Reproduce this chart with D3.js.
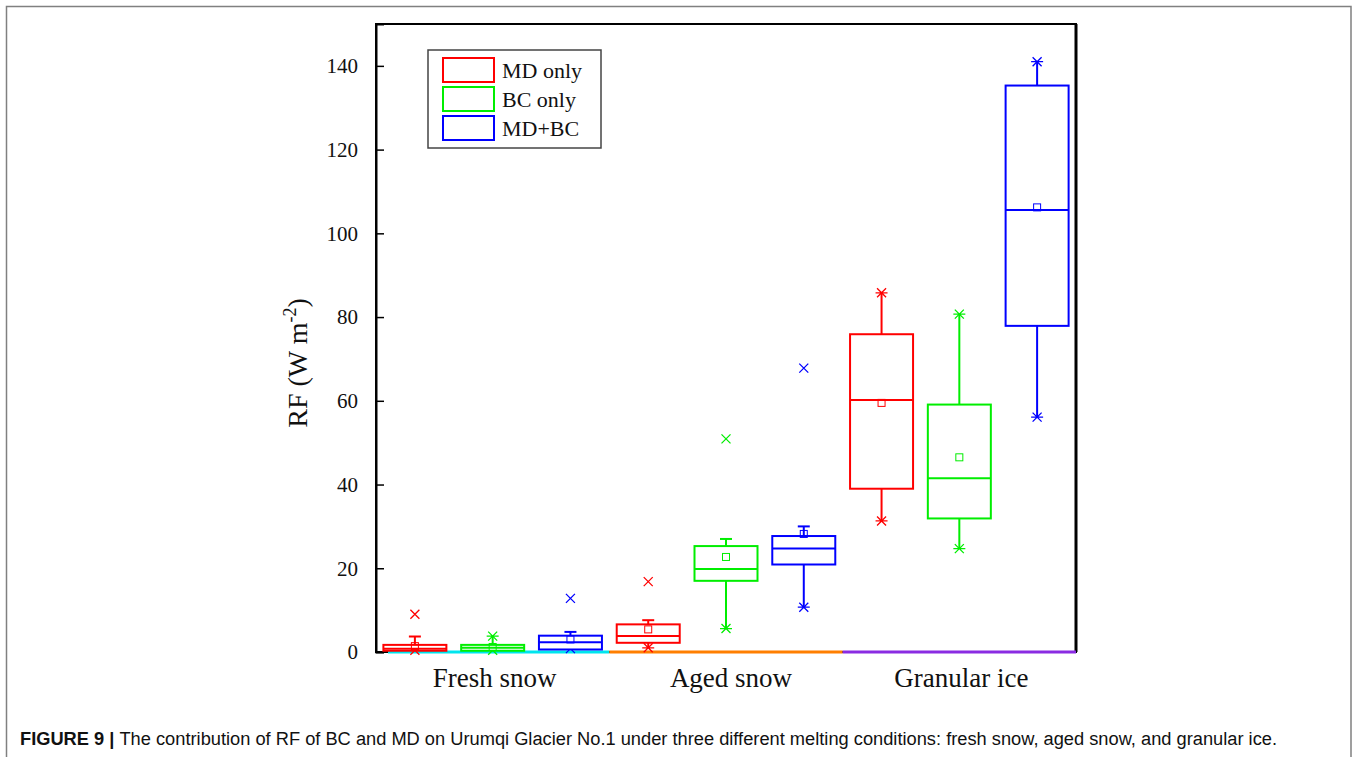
<!DOCTYPE html>
<html>
<head>
<meta charset="utf-8">
<script src="https://cdn.jsdelivr.net/npm/d3@7"></script>
<style>
  body { margin: 0; background: #fff; }
  svg { display: block; }
</style>
</head>
<body>
<div id="chart"></div>
<script>
// data
const categories = ["Fresh snow", "Aged snow", "Granular ice"];
const seriesNames = ["MD only", "BC only", "MD+BC"];
const seriesColors = ["#ff0000", "#00ee00", "#0000ff"];
const groupLineColors = ["#00e5ee", "#ff7f00", "#8a2be2"];
const yTicks = [0, 20, 40, 60, 80, 100, 120, 140];

// MD only
const mdLow = [0.4, 1.0, 31.3];
const mdQ1 = [0.3, 2.2, 39.0];
const mdMed = [0.8, 3.8, 60.2];
const mdQ3 = [1.7, 6.6, 75.9];
const mdHigh = [3.7, 7.6, 85.8];
const mdMean = [1.4, 5.4, 59.5];
const mdOut = [9.0, 16.8, null];

// BC only
const bcLow = [0.4, 5.6, 24.7];
const bcQ1 = [0.3, 17.0, 31.9];
const bcMed = [1.0, 19.8, 41.5];
const bcQ3 = [1.7, 25.3, 59.1];
const bcHigh = [3.8, 27.0, 80.7];
const bcMean = [1.2, 22.7, 46.5];
const bcOut = [null, 50.9, null];

// MD+BC
const mbLow = [0.8, 10.7, 56.1];
const mbQ1 = [0.6, 20.9, 77.9];
const mbMed = [2.3, 24.7, 105.6];
const mbQ3 = [3.9, 27.7, 135.3];
const mbHigh = [4.8, 30.0, 141.0];
const mbMean = [3.0, 28.2, 106.2];
const mbOut = [12.8, 67.8, null];

const seriesStats = [
  [mdLow, mdQ1, mdMed, mdQ3, mdHigh, mdMean, mdOut],
  [bcLow, bcQ1, bcMed, bcQ3, bcHigh, bcMean, bcOut],
  [mbLow, mbQ1, mbMed, mbQ3, mbHigh, mbMean, mbOut]
];

// one box per category/series pair, in drawing order
const boxes = [];
categories.forEach((c, ci) => {
  seriesStats.forEach((s, si) => {
    boxes.push({
      key: c + "|" + seriesNames[si], cat: ci, ser: si,
      low: s[0][ci], q1: s[1][ci], med: s[2][ci], q3: s[3][ci],
      high: s[4][ci], mean: s[5][ci], out: s[6][ci]
    });
  });
});

const W = 1354, H = 757;
const plotL = 376, plotR = 1076, plotT = 24, plotB = 652;

const svg = d3.select("#chart").append("svg")
  .attr("width", W).attr("height", H);

// page frame
svg.append("path")
  .attr("d", `M6.5,${H} V6.5 H1351 V${H}`)
  .attr("fill", "none").attr("stroke", "#808080").attr("stroke-width", 1.5);

const x = d3.scaleBand()
  .domain(boxes.map(d => d.key))
  .range([plotL, plotR])
  .paddingInner(0.19)
  .paddingOuter(0.095);

const y = d3.scaleLinear().domain([0, 150]).range([plotB, plotT]);

const serif = "'Liberation Serif', 'Times New Roman', serif";

// frame of plot
svg.append("rect")
  .attr("x", plotL).attr("y", plotT)
  .attr("width", plotR - plotL).attr("height", plotB - plotT)
  .attr("fill", "none").attr("stroke", "#000").attr("stroke-width", 2);
svg.append("line")
  .attr("x1", plotR).attr("x2", plotR).attr("y1", plotT).attr("y2", plotB)
  .attr("stroke", "#000").attr("stroke-width", 3);

// y axis, ticks inward
const yAxis = d3.axisLeft(y).tickValues(yTicks).tickSize(-8).tickPadding(18);
const gy = svg.append("g").attr("transform", `translate(${plotL},0)`).call(yAxis);
gy.select(".domain").attr("stroke-width", 2);
gy.selectAll(".tick line").attr("stroke-width", 1.5);
gy.selectAll(".tick text")
  .attr("font-family", serif).attr("font-size", 21).attr("fill", "#111");

// coloured group lines along the bottom
const step = x.step();
categories.forEach((c, ci) => {
  const first = x(categories[ci] + "|" + seriesNames[0]);
  const last = x(categories[ci] + "|" + seriesNames[2]) + x.bandwidth();
  const pad = (step - x.bandwidth()) / 2;
  let x0 = first - pad, x1 = last + pad;
  if (ci === 0) x0 += 12;
  svg.append("line")
    .attr("x1", x0).attr("x2", x1).attr("y1", plotB).attr("y2", plotB)
    .attr("stroke", groupLineColors[ci]).attr("stroke-width", 3);
  svg.append("text")
    .attr("x", (first + last) / 2 + (ci === 1 ? 5 : 2)).attr("y", 687)
    .attr("text-anchor", "middle")
    .attr("font-family", serif).attr("font-size", 27).attr("fill", "#111")
    .text(c);
});

// asterisk-like marker
function xMark(g, cx, cy, color, withBar) {
  const r = 4.5;
  g.append("path")
    .attr("d", `M${cx - r},${cy - r}L${cx + r},${cy + r}M${cx - r},${cy + r}L${cx + r},${cy - r}` +
      (withBar ? `M${cx - 6},${cy}H${cx + 6}` : ""))
    .attr("stroke", color).attr("stroke-width", 1.3).attr("fill", "none");
}

const bw = x.bandwidth();
boxes.forEach(d => {
  const col = seriesColors[d.ser];
  const g = svg.append("g");
  const cx = x(d.key) + bw / 2;
  const capW = 12;

  // whiskers
  g.append("line").attr("x1", cx).attr("x2", cx)
    .attr("y1", y(d.q3)).attr("y2", y(d.high))
    .attr("stroke", col).attr("stroke-width", 2);
  g.append("line").attr("x1", cx).attr("x2", cx)
    .attr("y1", y(d.q1)).attr("y2", y(d.low))
    .attr("stroke", col).attr("stroke-width", 2);
  if (d.out != null) {
    g.append("line").attr("x1", cx - capW / 2).attr("x2", cx + capW / 2)
      .attr("y1", y(d.high)).attr("y2", y(d.high))
      .attr("stroke", col).attr("stroke-width", 2);
    xMark(g, cx, y(d.out), col, false);
  } else {
    xMark(g, cx, y(d.high), col, true);
  }
  xMark(g, cx, y(d.low), col, true);

  // box
  g.append("rect")
    .attr("x", x(d.key)).attr("y", y(d.q3))
    .attr("width", bw).attr("height", Math.max(0, y(d.q1) - y(d.q3)))
    .attr("fill", "#fff").attr("stroke", col).attr("stroke-width", 2);
  g.append("line")
    .attr("x1", x(d.key)).attr("x2", x(d.key) + bw)
    .attr("y1", y(d.med)).attr("y2", y(d.med))
    .attr("stroke", col).attr("stroke-width", 2);
  // mean
  g.append("rect")
    .attr("x", cx - 3.5).attr("y", y(d.mean) - 3.5)
    .attr("width", 7).attr("height", 7)
    .attr("fill", "none").attr("stroke", col).attr("stroke-width", 1);
});

// y axis title
const yt = svg.append("text")
  .attr("transform", `translate(307,${(plotT + plotB) / 2 + 25}) rotate(-90)`)
  .attr("text-anchor", "middle")
  .attr("font-family", serif).attr("font-size", 28).attr("fill", "#111");
yt.append("tspan").text("RF (W m");
yt.append("tspan").attr("dy", -11).attr("font-size", 18).text("-2");
yt.append("tspan").attr("dy", 11).text(")");

// legend
const lg = svg.append("g");
lg.append("rect")
  .attr("x", 428).attr("y", 50).attr("width", 173).attr("height", 98)
  .attr("fill", "#fff").attr("stroke", "#444").attr("stroke-width", 1.5);
seriesNames.forEach((s, i) => {
  const yy = 58 + i * 29;
  lg.append("rect")
    .attr("x", 443).attr("y", yy).attr("width", 51).attr("height", 24)
    .attr("fill", "none").attr("stroke", seriesColors[i]).attr("stroke-width", 2);
  lg.append("text")
    .attr("x", 502).attr("y", yy + 20)
    .attr("font-family", serif).attr("font-size", 22).attr("fill", "#111")
    .text(s);
});

// caption
const cap = svg.append("text")
  .attr("x", 20).attr("y", 745)
  .attr("font-family", "'Liberation Sans', Arial, sans-serif")
  .attr("font-size", 18).attr("fill", "#111")
  .attr("textLength", 1257).attr("lengthAdjust", "spacingAndGlyphs");
cap.append("tspan").attr("font-weight", "bold").text("FIGURE 9 | ");
cap.append("tspan").text("The contribution of RF of BC and MD on Urumqi Glacier No.1 under three different melting conditions: fresh snow, aged snow, and granular ice.");
</script>
</body>
</html>
